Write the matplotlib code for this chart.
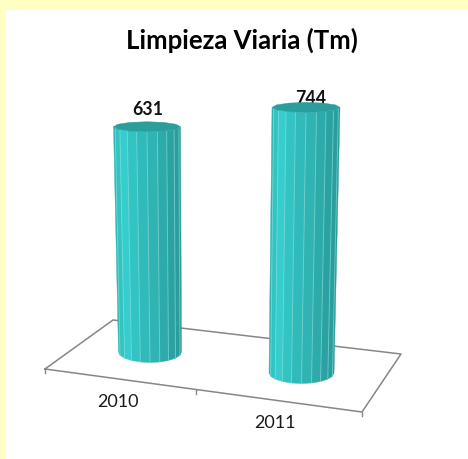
import numpy as np
import matplotlib
matplotlib.use("Agg")
import matplotlib.pyplot as plt
from matplotlib.colors import LinearSegmentedColormap
from matplotlib.patches import Polygon, Rectangle

# datos del grafico
years = ["2010", "2011"]
tons = [631, 744]

title = "Limpieza Viaria (Tm)"

# escala de la perspectiva, en pixeles de la imagen
px_per_tm = 0.357
base_y = [352, 373]
top_cx = [147, 306]
base_cx = [150, 301.5]
top_r = [33.5, 34]
base_r = [31.5, 32.5]
floor = [(45, 369), (113, 320), (401, 354), (362, 412)]

cmap = LinearSegmentedColormap.from_list(
    "cil", ["#2fb5b5", "#35cfcf", "#31bdbd", "#2eb0b0", "#2aa09f", "#2a9a9a"]
)
plt.rcParams["font.family"] = ["Lato", "DejaVu Sans"]

fig = plt.figure(figsize=(4.68, 4.59), dpi=100)
ax = fig.add_axes([0, 0, 1, 1])
ax.set_xlim(0, 468)
ax.set_ylim(459, 0)
ax.axis("off")

# marco amarillo
ax.add_patch(Rectangle((0, 0), 468, 10, color="#ffffc4", lw=0))
ax.add_patch(Rectangle((0, 0), 6, 459, color="#ffffc4", lw=0))

# suelo
fx, fy = zip(*(floor + floor[:1]))
ax.plot(fx, fy, color="#868686", lw=1.1, zorder=1)
ax.plot([196, 196], [390, 394], color="#868686", lw=1, zorder=1)
ax.plot([45, 45], [369, 373], color="#868686", lw=1, zorder=1)
ax.plot([362, 362], [412, 416], color="#868686", lw=1, zorder=1)


def cilindro(i, value):
    # cara lateral hecha de facetas, la altura sale del valor
    y_top = base_y[i] - value * px_per_tm
    ang = np.linspace(np.pi, 0, 11)
    xt = top_cx[i] + top_r[i] * np.cos(ang)
    xb = base_cx[i] + base_r[i] * np.cos(ang)
    yt = y_top + 5 * np.sin(ang)
    yb = base_y[i] + 10.5 * np.sin(ang)
    for k in range(10):
        pts = [(xt[k], yt[k]), (xt[k + 1], yt[k + 1]), (xb[k + 1], yb[k + 1]), (xb[k], yb[k])]
        ax.add_patch(Polygon(pts, color=cmap(k / 9), lw=0.3, zorder=3))
    for k in range(1, 10):
        ax.plot([xt[k], xb[k]], [yt[k] + 1, yb[k]], color="#8fe3e0", lw=0.7, alpha=0.55, zorder=4)
    # tapa
    a = np.linspace(0, 2 * np.pi, 13)
    tapa = np.column_stack([top_cx[i] + top_r[i] * np.cos(a), y_top + 5 * np.sin(a)])
    ax.add_patch(Polygon(tapa, color="#2a9e9c", lw=0.3, zorder=6))
    return y_top


for i, value in enumerate(tons):
    y_top = cilindro(i, value)
    ax.text(top_cx[i] + (1 if i == 0 else 5), y_top - 17 + (0 if i == 0 else 8), str(value),
            ha="center", va="center", fontsize=12.8, fontweight="bold", color="#111111", zorder=5)

ax.text(118, 402, years[0], ha="center", va="center", fontsize=13, color="#1a1a1a")
ax.text(275, 423, years[1], ha="center", va="center", fontsize=13, color="#1a1a1a")
ax.text(242, 40, title, ha="center", va="center", fontsize=18.5, fontweight="bold", color="black")

fig.savefig("out.png", dpi=100)
